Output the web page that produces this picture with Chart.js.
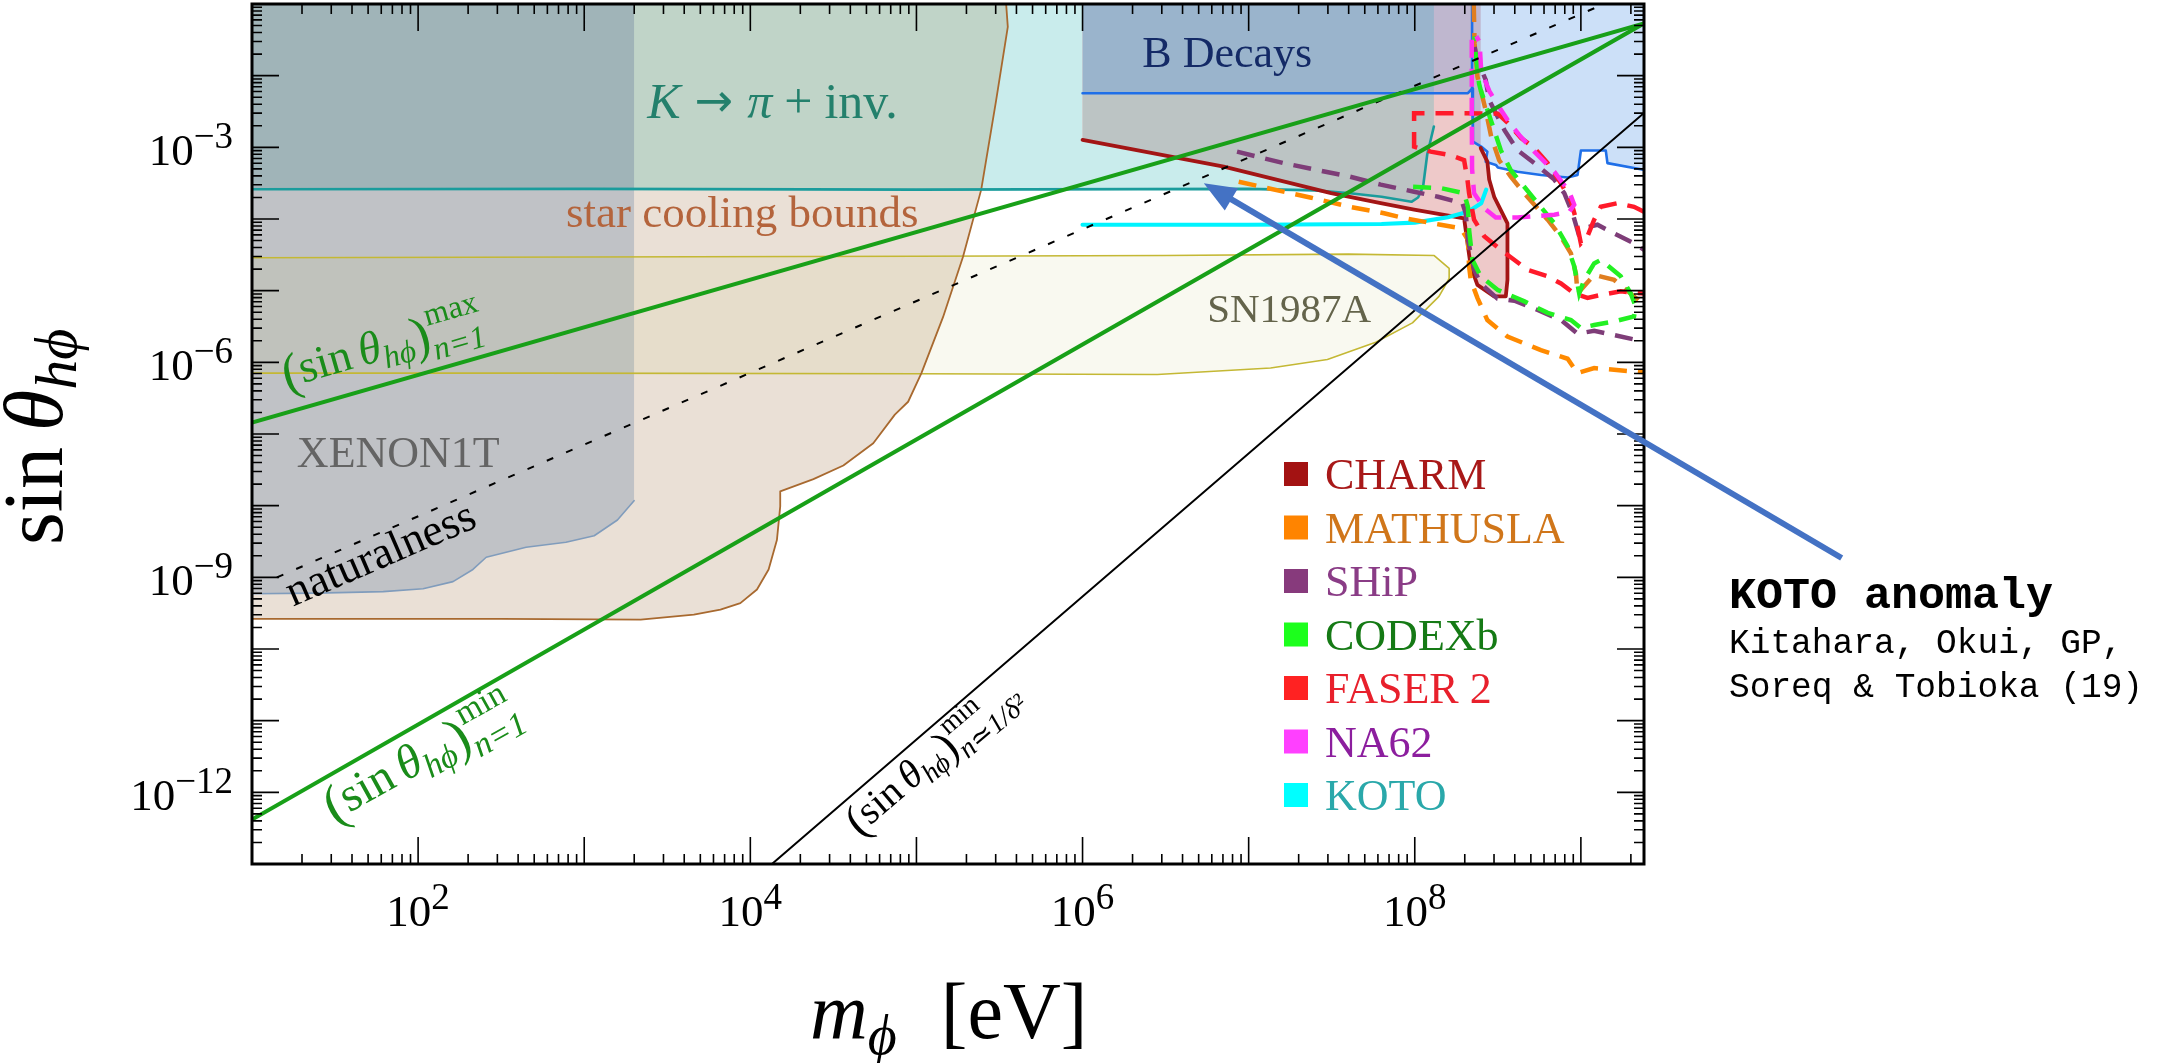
<!DOCTYPE html>
<html>
<head>
<meta charset="utf-8">
<script src="https://cdn.jsdelivr.net/npm/chart.js@4.4.1/dist/chart.umd.min.js"></script>
<style>
  html, body { margin: 0; padding: 0; background: #fff; }
  #wrap { width: 2157px; height: 1063px; }
</style>
</head>
<body>
<div id="wrap"><canvas id="plot" width="2157" height="1063"></canvas></div>
<script>
// every point is [log10(m_phi / eV), log10(sin theta_hphi)]
const X_LOG_RANGE = [1, 9.38];
const Y_LOG_RANGE = [-13, -1];
const xLabelPowers = [2, 4, 6, 8];
const yLabelPowers = [-3, -6, -9, -12];

const starCooling = [[1,-1],[5.54,-1],[5.55,-1.32],[5.48,-2.34],[5.39,-3.59],[5.28,-4.53],[5.16,-5.37],[5.03,-6.15],[4.95,-6.55],[4.87,-6.73],[4.74,-7.13],[4.56,-7.44],[4.38,-7.63],[4.18,-7.80],[4.18,-8.01],[4.16,-8.48],[4.11,-8.89],[4.04,-9.17],[3.94,-9.36],[3.82,-9.45],[3.66,-9.52],[3.34,-9.59],[2.5,-9.58],[1,-9.58]];
const xenon1T = [[1,-1],[3.30,-1],[3.30,-7.93],[3.20,-8.20],[3.06,-8.42],[2.89,-8.51],[2.65,-8.58],[2.41,-8.72],[2.33,-8.89],[2.21,-9.06],[2.03,-9.16],[1.79,-9.20],[1.39,-9.22],[1,-9.23]];
const kPiInv = [[1,-1],[1,-3.585],[3,-3.58],[5,-3.59],[7,-3.58],[7.4,-3.60],[7.61,-3.64],[7.8,-3.69],[7.98,-3.76],[8.02,-3.70],[8.05,-3.55],[8.075,-3.10],[8.115,-2.71],[8.115,-1]];
// overlap patches (where two shaded bounds lie on top of each other)
const kStarOverlap = [[1,-1],[5.54,-1],[5.55,-1.32],[5.48,-2.34],[5.39,-3.59],[1,-3.585]];
const kXenonOverlap = [[1,-1],[3.30,-1],[3.30,-3.585],[1,-3.585]];
const sn1987A = [[1,-4.54],[3,-4.53],[5,-4.52],[6.5,-4.51],[7.6,-4.49],[8.117,-4.51],[8.207,-4.69],[8.207,-4.83],[8.146,-5.08],[7.986,-5.45],[7.765,-5.72],[7.474,-5.96],[7.132,-6.08],[6.45,-6.17],[5.0,-6.16],[2.7,-6.15],[1,-6.15]];
const charm = [[6.0,-1],[6.0,-2.897],[6.85,-3.27],[7.496,-3.64],[7.795,-3.78],[7.996,-3.87],[8.297,-3.99],[8.32,-4.38],[8.337,-4.66],[8.377,-4.92],[8.478,-5.08],[8.548,-5.08],[8.558,-4.85],[8.558,-4.06],[8.478,-3.69],[8.448,-3.45],[8.437,-3.20],[8.397,-3.01],[8.397,-1]];
const charmKOverlap = [[6.0,-1],[6.0,-2.897],[6.85,-3.27],[7.45,-3.614],[7.61,-3.64],[7.8,-3.69],[7.98,-3.76],[8.02,-3.70],[8.05,-3.55],[8.075,-3.10],[8.115,-2.71],[8.115,-1]];
const bDecays = [[6.0,-1],[6.0,-2.245],[8.32,-2.245],[8.345,-2.18],[8.35,-2.92],[8.40,-2.99],[8.437,-3.06],[8.427,-3.20],[8.488,-3.245],[8.50,-3.28],[8.618,-3.34],[8.76,-3.385],[8.92,-3.42],[8.98,-3.385],[9.0,-3.045],[9.15,-3.045],[9.16,-3.22],[9.36,-3.306],[9.38,-3.315],[9.38,-1]];
const bDecaysTopEdge = [[8.345,-1],[8.345,-2.18]];

const koto = [[6.0,-4.08],[7.0,-4.08],[7.8,-4.07],[8.0,-4.05],[8.2,-3.975],[8.32,-3.90],[8.40,-3.78],[8.43,-3.59]];
const mathuslaLow = [[6.94,-3.48],[7.37,-3.70],[7.61,-3.83],[7.815,-3.92],[7.94,-3.99],[8.156,-4.08],[8.277,-4.13],[8.32,-4.29],[8.327,-4.66],[8.337,-4.85],[8.377,-5.10],[8.437,-5.41],[8.558,-5.64],[8.759,-5.83],[8.92,-5.95],[8.98,-6.15],[9.08,-6.08],[9.38,-6.14]];
const mathuslaHigh = [[8.355,-1],[8.36,-1.55],[8.377,-2.01],[8.427,-2.48],[8.46,-2.85],[8.508,-3.18],[8.578,-3.41],[8.659,-3.64],[8.80,-4.01],[8.88,-4.25],[8.94,-4.48],[8.97,-4.76],[8.98,-5.04],[9.08,-4.78],[9.20,-4.85],[9.32,-5.08],[9.38,-5.2]];
const shipLow = [[6.93,-3.06],[7.21,-3.22],[7.61,-3.41],[7.795,-3.52],[7.996,-3.62],[8.14,-3.69],[8.287,-3.78],[8.307,-3.92],[8.32,-4.29],[8.357,-4.71],[8.397,-4.90],[8.498,-5.11],[8.60,-5.14],[8.74,-5.27],[8.88,-5.41],[8.98,-5.60],[9.08,-5.56],[9.20,-5.62],[9.38,-5.71]];
const shipHigh = [[8.36,-1.6],[8.377,-1.78],[8.427,-2.06],[8.448,-2.34],[8.54,-2.76],[8.618,-3.04],[8.72,-3.22],[8.84,-3.45],[8.90,-3.64],[8.95,-3.92],[8.985,-4.2],[9.03,-4.12],[9.10,-4.08],[9.20,-4.20],[9.32,-4.34],[9.38,-4.43]];
const codexB = [[7.99,-3.55],[8.16,-3.57],[8.297,-3.64],[8.32,-3.83],[8.327,-4.15],[8.347,-4.57],[8.397,-4.80],[8.50,-4.99],[8.66,-5.15],[8.80,-5.31],[8.94,-5.41],[9.0,-5.52],[9.08,-5.48],[9.20,-5.43],[9.32,-5.36],[9.33,-5.22],[9.30,-5.04],[9.24,-4.80],[9.12,-4.57],[9.08,-4.62],[9.02,-4.85],[8.99,-5.04],[8.96,-4.66],[8.92,-4.38],[8.84,-4.06],[8.74,-3.78],[8.659,-3.55],[8.578,-3.32],[8.518,-3.04],[8.458,-2.62],[8.397,-2.20],[8.387,-2.11],[8.367,-1.69],[8.36,-1.45]];
const faser2 = [[9.38,-3.90],[9.32,-3.83],[9.22,-3.78],[9.12,-3.83],[9.08,-4.01],[9.04,-4.24],[9.0,-4.34],[8.97,-4.0],[8.94,-3.75],[8.88,-3.50],[8.80,-3.22],[8.72,-3.01],[8.64,-2.87],[8.56,-2.66],[8.50,-2.53],[8.25,-2.525],[7.996,-2.525],[7.996,-2.99],[8.096,-3.06],[8.217,-3.11],[8.297,-3.18],[8.317,-3.45],[8.327,-3.64],[8.357,-4.01],[8.418,-4.24],[8.518,-4.43],[8.68,-4.71],[8.80,-4.80],[8.88,-4.90],[8.96,-5.04],[9.04,-5.10],[9.12,-5.06],[9.24,-5.01],[9.38,-5.04]];
const na62 = [[8.343,-1.5],[8.343,-2.5],[8.345,-3.3],[8.357,-3.64],[8.418,-3.85],[8.488,-3.98],[8.618,-3.98],[8.72,-3.96],[8.84,-3.94],[8.93,-3.90],[8.96,-3.80],[8.93,-3.62],[8.84,-3.34],[8.78,-3.20],[8.72,-3.06],[8.63,-2.83],[8.57,-2.66],[8.50,-2.41],[8.45,-2.22],[8.40,-1.94],[8.39,-1.53],[8.37,-1.45]];

const sinMaxN1 = [[1,-6.84],[9.38,-1.27]];
const sinMinN1 = [[1,-12.38],[9.38,-1.27]];
const sinMinDelta = [[4.13,-13],[9.38,-2.52]];
const naturalness = [[1.15,-9.0],[9.14,-1.0]];

const legendNames = ['CHARM', 'MATHUSLA', 'SHiP', 'CODEXb', 'FASER 2', 'NA62', 'KOTO'];
const legendSwatch = ['#a31212', '#ff8400', '#873a7c', '#1cff1c', '#ff2222', '#ff40ff', '#00ffff'];
const legendInk = ['#a81818', '#d0761a', '#8a3c86', '#157a15', '#e8202c', '#8c1e9e', '#2aa8aa'];

const arrowFrom = [10.57, -8.73];
const arrowTo = [6.73, -3.50];

const SERIF = '"Liberation Serif", "DejaVu Serif", serif';
const f = (size, style) => (style ? style + ' ' : '') + size + 'px ' + SERIF;
const pts = (arr) => arr.map(([a, b]) => ({ x: Math.pow(10, a), y: Math.pow(10, b) }));

const layers = [];
function area(data, color) {
    layers.push({ data: pts(data), backgroundColor: color, borderColor: 'rgba(0,0,0,0)', borderWidth: 0, fill: 'shape' });
}
function curve(data, color, width, dash) {
    layers.push({ data: pts(data), borderColor: color, borderWidth: width, borderDash: dash || [], fill: false,
        borderJoinStyle: dash ? 'miter' : 'round', borderCapStyle: dash ? 'butt' : 'round' });
}

area(starCooling, '#eae0d6');
area(xenon1T, '#c0c2c6');
area(kPiInv, '#c9ecec');
area(kStarOverlap, '#c0d4c8');
area(kXenonOverlap, '#a0b4b8');
area(sn1987A, 'rgba(200,200,110,0.10)');
area(charm, '#eec9c9');
area(charmKOverlap, '#bcc4c4');
area(bDecays, 'rgba(51,131,227,0.25)');

curve(sn1987A, '#c4b834', 1.6);
curve(xenon1T.slice(2), '#809cbc', 1.6);
curve(starCooling.slice(1), '#a8692f', 1.8);
curve(kPiInv.slice(1, -1), '#1a9c9c', 2.6);
curve(bDecays.slice(1, -1), '#1f6fe8', 2.6);
curve(bDecaysTopEdge, '#1f6fe8', 2.6);
curve(charm.slice(1, -1), '#a31515', 3.8);
curve(koto, '#00f4ff', 4.2);
curve(mathuslaLow, '#ff8a00', 4.5, [18, 11]);
curve(mathuslaHigh, '#e07e20', 4.5, [18, 11]);
curve(shipLow, '#7e3d78', 4.5, [18, 11]);
curve(shipHigh, '#7e3d78', 4.5, [18, 11]);
curve(codexB, '#22f022', 4.5, [18, 11]);
curve(faser2, '#ff1a2a', 4.5, [18, 11]);
curve(na62, '#ff30f0', 4.5, [18, 11]);
curve(naturalness, '#000000', 2, [7, 14]);
curve(sinMinDelta, '#000000', 2);
curve(sinMaxN1, '#18a018', 4);
curve(sinMinN1, '#18a018', 4);

const datasets = layers.map((d, i) => Object.assign({ order: 1000 - i, pointRadius: 0, tension: 0 }, d));

function drawRich(ctx, x, y, angle, parts, color, align) {
    ctx.save();
    ctx.translate(x, y);
    ctx.rotate(angle * Math.PI / 180);
    ctx.fillStyle = color;
    ctx.textBaseline = 'alphabetic';
    ctx.textAlign = 'left';
    const widthOf = (p) => {
        if (p.gap) return p.gap;
        if (p.sup !== undefined) {
            ctx.font = p.font;
            const a = ctx.measureText(p.sup).width;
            ctx.font = p.subFont || p.font;
            const b = ctx.measureText(p.sub).width;
            return Math.max(a, b);
        }
        ctx.font = p.font;
        return ctx.measureText(p.t).width;
    };
    const total = parts.reduce((s, p) => s + widthOf(p), 0);
    let cx = align === 'center' ? -total / 2 : align === 'right' ? -total : 0;
    for (const p of parts) {
        const w = widthOf(p);
        if (p.sup !== undefined) {
            ctx.font = p.font;
            ctx.fillText(p.sup, cx, -p.up);
            ctx.font = p.subFont || p.font;
            ctx.fillText(p.sub, cx, p.down);
        } else if (!p.gap) {
            ctx.font = p.font;
            ctx.fillText(p.t, cx, p.dy || 0);
        }
        cx += w;
    }
    ctx.restore();
}

const thetaLabel = (size, sup, sub) => [
    { t: '(', font: f(size * 1.15), dy: size * 0.08 },
    { t: 'sin', font: f(size) },
    { gap: size * 0.18 },
    { t: 'θ', font: f(size, 'italic') },
    { t: 'hϕ', font: f(Math.round(size * 0.7), 'italic'), dy: size * 0.2 },
    { t: ')', font: f(size * 1.15), dy: size * 0.08 },
    { sup: sup, sub: sub, font: f(Math.round(size * 0.7)), subFont: f(Math.round(size * 0.7), 'italic'), up: size * 0.45, down: size * 0.32 },
];

const decorations = {
    id: 'decorations',
    afterDatasetsDraw(chart) {
        const { ctx, chartArea: a, scales: { x, y } } = chart;
        const px = (v) => x.getPixelForValue(Math.pow(10, v));
        const py = (v) => y.getPixelForValue(Math.pow(10, v));

        // frame
        ctx.save();
        ctx.strokeStyle = '#000';
        ctx.lineWidth = 3;
        ctx.strokeRect(a.left, a.top, a.right - a.left, a.bottom - a.top);

        // inward log ticks on all four sides
        ctx.lineWidth = 1.6;
        ctx.beginPath();
        const ticks = (scale, horizontal) => {
            const lo = Math.floor(Math.log10(scale.min)), hi = Math.ceil(Math.log10(scale.max));
            for (let d = lo; d <= hi; d++) {
                for (let m = 1; m <= 9; m++) {
                    const v = m * Math.pow(10, d);
                    if (v < scale.min * 0.9999 || v > scale.max * 1.0001) continue;
                    const p = scale.getPixelForValue(v);
                    const len = m === 1 ? 27 : 10;
                    if (horizontal) {
                        ctx.moveTo(p, a.bottom); ctx.lineTo(p, a.bottom - len);
                        ctx.moveTo(p, a.top); ctx.lineTo(p, a.top + len);
                    } else {
                        ctx.moveTo(a.left, p); ctx.lineTo(a.left + len, p);
                        ctx.moveTo(a.right, p); ctx.lineTo(a.right - len, p);
                    }
                }
            }
        };
        ticks(x, true);
        ticks(y, false);
        ctx.stroke();
        ctx.restore();

        // tick labels 10^n
        const power = (p) => [{ t: '10', font: f(45) }, { t: p < 0 ? '\u2212' + (-p) : String(p), font: f(37), dy: -17 }];
        xLabelPowers.forEach((p) => drawRich(ctx, px(p), a.bottom + 62, 0, power(p), '#000', 'center'));
        yLabelPowers.forEach((p) => drawRich(ctx, a.left - 19, py(p) + 18, 0, power(p), '#000', 'right'));

        // axis titles
        drawRich(ctx, 810, 1038, 0, [
            { t: 'm', font: f(80, 'italic') },
            { t: 'ϕ', font: f(56, 'italic'), dy: 16 },
            { gap: 44 },
            { t: '[eV]', font: f(80) },
        ], '#000', 'left');
        drawRich(ctx, 62, 545, -90, [
            { t: 'sin', font: f(84) },
            { gap: 16 },
            { t: 'θ', font: f(84, 'italic') },
            { t: 'hϕ', font: f(60, 'italic'), dy: 14 },
        ], '#000', 'left');

        // region labels
        drawRich(ctx, px(3.38), py(-2.59), 0, [
            { t: 'K', font: f(50, 'italic') },
            { gap: 14 },
            { t: '→', font: '46px "DejaVu Sans", sans-serif', dy: -2 },
            { gap: 14 },
            { t: 'π', font: f(50, 'italic') },
            { gap: 12 },
            { t: '+', font: f(50) },
            { gap: 12 },
            { t: 'inv.', font: f(50) },
        ], '#23806c', 'left');
        drawRich(ctx, px(6.36), py(-1.88), 0, [{ t: 'B Decays', font: f(44) }], '#142a66', 'left');
        drawRich(ctx, px(2.89), py(-4.11), 0, [{ t: 'star cooling bounds', font: f(45) }], '#b4643c', 'left');
        drawRich(ctx, px(6.75), py(-5.435), 0, [{ t: 'SN1987A', font: f(41) }], '#64644b', 'left');
        drawRich(ctx, px(1.27), py(-7.46), 0, [{ t: 'XENON1T', font: f(44) }], '#646464', 'left');
        drawRich(ctx, px(1.247), py(-9.41), -23.4, [{ t: 'naturalness', font: f(45) }], '#000', 'left');
        drawRich(ctx, px(1.205), py(-6.356), -16, thetaLabel(46, 'max', 'n=1'), '#1a8c1a', 'left');
        drawRich(ctx, px(1.488), py(-12.41), -29, thetaLabel(48, 'min', 'n=1'), '#1a8c1a', 'left');
        drawRich(ctx, px(4.651), py(-12.604), -40.5, thetaLabel(40, 'min', 'n≃1/δ²'), '#000', 'left');

        // legend inside the plot
        legendNames.forEach((name, i) => {
            const cy = a.top + 470 + i * 53.5;
            ctx.fillStyle = legendSwatch[i];
            ctx.fillRect(a.left + 1032, cy - 12, 24, 24);
            drawRich(ctx, a.left + 1073, cy + 15, 0, [{ t: name, font: f(44) }], legendInk[i], 'left');
        });

        // KOTO anomaly note and arrow
        const mono = (size, w) => (w ? w + ' ' : '') + size + 'px "Liberation Mono", "DejaVu Sans Mono", monospace';
        drawRich(ctx, 1729, 608, 0, [{ t: 'KOTO anomaly', font: mono(45, 'bold') }], '#000', 'left');
        drawRich(ctx, 1729, 653, 0, [{ t: 'Kitahara, Okui, GP,', font: mono(34.5) }], '#000', 'left');
        drawRich(ctx, 1729, 697, 0, [{ t: 'Soreq & Tobioka (19)', font: mono(34.5) }], '#000', 'left');

        const x0 = px(arrowFrom[0]), y0 = py(arrowFrom[1]);
        const x1 = px(arrowTo[0]), y1 = py(arrowTo[1]);
        const ang = Math.atan2(y1 - y0, x1 - x0);
        const head = 32, half = 13;
        const bx = x1 - head * Math.cos(ang), by = y1 - head * Math.sin(ang);
        ctx.save();
        ctx.strokeStyle = '#4472c4';
        ctx.fillStyle = '#4472c4';
        ctx.lineWidth = 6;
        ctx.beginPath();
        ctx.moveTo(x0, y0);
        ctx.lineTo(bx + 2 * Math.cos(ang), by + 2 * Math.sin(ang));
        ctx.stroke();
        ctx.beginPath();
        ctx.moveTo(x1, y1);
        ctx.lineTo(bx + half * Math.sin(ang), by - half * Math.cos(ang));
        ctx.lineTo(bx - half * Math.sin(ang), by + half * Math.cos(ang));
        ctx.closePath();
        ctx.fill();
        ctx.restore();
    },
};

new Chart(document.getElementById('plot'), {
    type: 'line',
    data: { datasets: datasets },
    options: {
        responsive: false,
        animation: false,
        events: [],
        layout: { padding: { top: 4, right: 513, bottom: 0, left: 0 } },
        elements: { point: { radius: 0 }, line: { tension: 0 } },
        plugins: { legend: { display: false }, tooltip: { enabled: false } },
        scales: {
            x: {
                type: 'logarithmic',
                min: Math.pow(10, X_LOG_RANGE[0]),
                max: Math.pow(10, X_LOG_RANGE[1]),
                grid: { display: false },
                border: { display: false },
                ticks: { display: false },
                afterFit: (s) => { s.height = 199; },
            },
            y: {
                type: 'logarithmic',
                min: Math.pow(10, Y_LOG_RANGE[0]),
                max: Math.pow(10, Y_LOG_RANGE[1]),
                grid: { display: false },
                border: { display: false },
                ticks: { display: false },
                afterFit: (s) => { s.width = 252; },
            },
        },
    },
    plugins: [decorations],
});
</script>
</body>
</html>
